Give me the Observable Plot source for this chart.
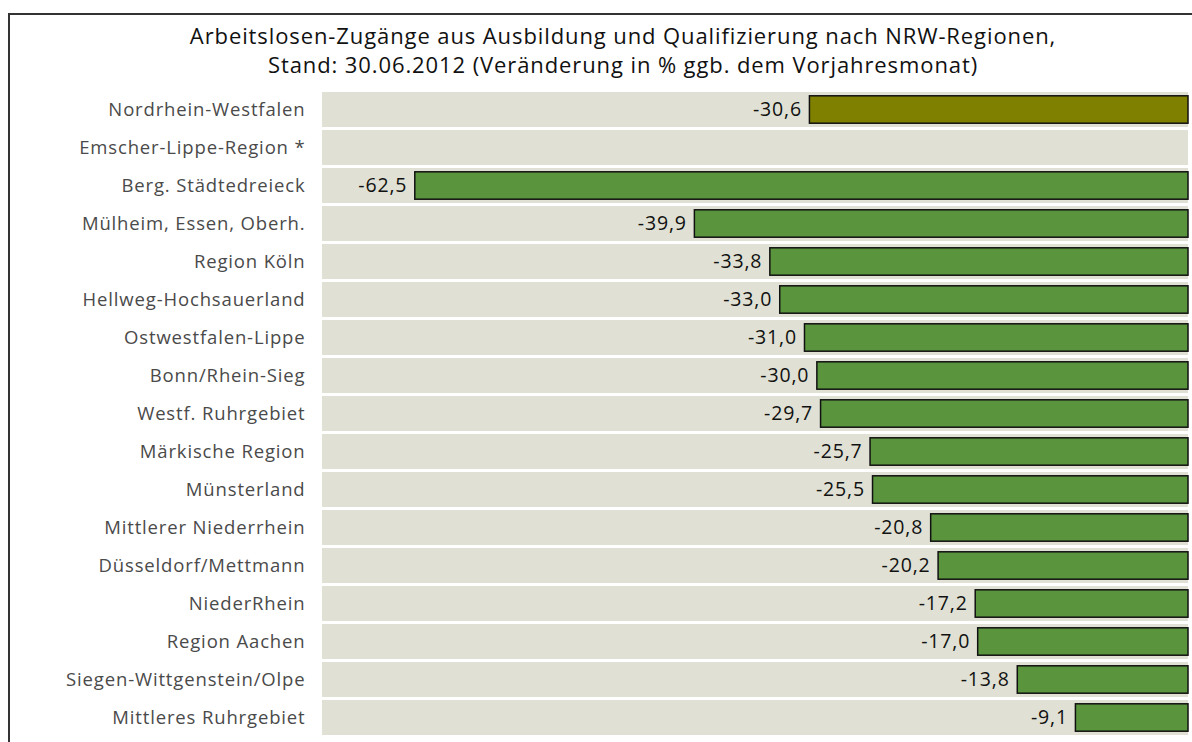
<!DOCTYPE html>
<html>
<head>
<meta charset="utf-8">
<script src="https://cdn.jsdelivr.net/npm/d3@7"></script>
<script src="https://cdn.jsdelivr.net/npm/@observablehq/plot@0.6"></script>
<style>
  html, body { margin: 0; padding: 0; background: #fff; overflow: hidden; }
  #frame {
    position: absolute; left: 8px; top: 13px; width: 1226px; height: 800px;
    border: 2px solid #333; background: #fff;
    font-family: "Open Sans", Roboto, sans-serif;
  }
  #title {
    padding-top: 6px; height: 58px; text-align: center;
    font-size: 22px; line-height: 28.5px; color: #111; letter-spacing: 0.9px;
  }
  #chart svg { display: block; }
</style>
</head>
<body>
<div id="frame">
  <div id="title">Arbeitslosen-Zugänge aus Ausbildung und Qualifizierung nach NRW-Regionen,<br>Stand: 30.06.2012 (Veränderung in % ggb. dem Vorjahresmonat)</div>
  <div id="chart"></div>
</div>
<script>
const regions = [
  "Nordrhein-Westfalen",
  "Emscher-Lippe-Region *",
  "Berg. Städtedreieck",
  "Mülheim, Essen, Oberh.",
  "Region Köln",
  "Hellweg-Hochsauerland",
  "Ostwestfalen-Lippe",
  "Bonn/Rhein-Sieg",
  "Westf. Ruhrgebiet",
  "Märkische Region",
  "Münsterland",
  "Mittlerer Niederrhein",
  "Düsseldorf/Mettmann",
  "NiederRhein",
  "Region Aachen",
  "Siegen-Wittgenstein/Olpe",
  "Mittleres Ruhrgebiet"
];
const values = [-30.6, null, -62.5, -39.9, -33.8, -33.0, -31.0, -30.0, -29.7, -25.7, -25.5, -20.8, -20.2, -17.2, -17.0, -13.8, -9.1];
const xDomain = [-70, 0];

const data = regions.map((r, i) => ({region: r, value: values[i], total: i === 0}));
const withValue = data.filter(d => d.value != null);
const fmt = v => v.toFixed(1).replace(".", ",");

const chart = Plot.plot({
  width: 1226,
  height: 668,
  marginLeft: 312,
  marginRight: 48,
  marginTop: 10.6,
  marginBottom: 10.4,
  style: {fontFamily: "'Open Sans', Roboto, sans-serif", background: "transparent", letterSpacing: "0.85px"},
  x: {domain: xDomain, axis: null},
  y: {domain: regions, padding: 0.09, paddingOuter: 0.045, label: null, tickSize: 0, tickPadding: 17},
  marks: [
    Plot.barX(data, {y: "region", x1: xDomain[0], x2: xDomain[1], fill: "#e0e1d4"}),
    Plot.barX(withValue, {
      y: "region", x1: 0, x2: "value",
      fill: d => d.total ? "#808000" : "#5a943d",
      stroke: "#111", strokeWidth: 1.5, insetTop: 3.8, insetBottom: 3.8
    }),
    Plot.text(withValue, {
      y: "region", x: "value", text: d => fmt(d.value),
      textAnchor: "end", dx: -8, fontSize: 19.5, fill: "#111"
    }),
    Plot.axisY({tickSize: 0, tickPadding: 17, fontSize: 18.5, fill: "#4a4a4a", label: null})
  ]
});
document.getElementById("chart").appendChild(chart);
</script>
</body>
</html>
